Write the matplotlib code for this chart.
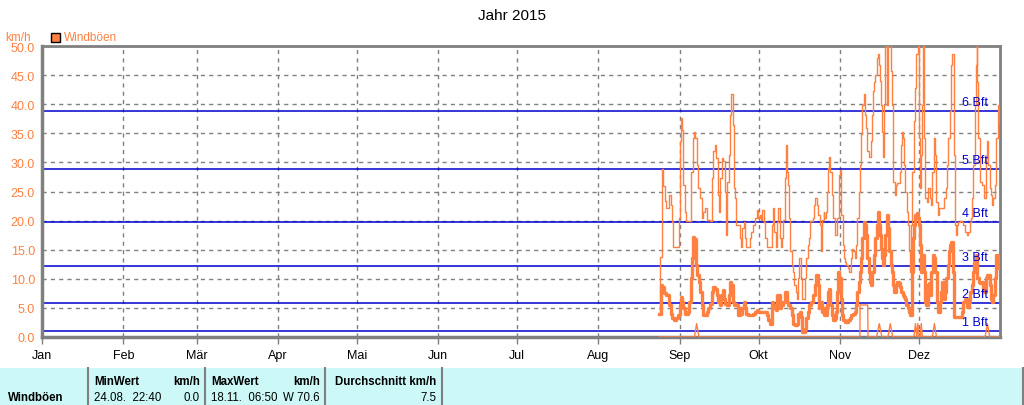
import matplotlib
matplotlib.use("Agg")
import matplotlib.pyplot as plt
from matplotlib.patches import Rectangle
from matplotlib.lines import Line2D

plt.rcParams['font.family'] = ['Liberation Sans', 'DejaVu Sans']

ORANGE = '#ff8040'
BLUE = '#0000d0'
GREY = '#808080'

# day of year (0 = 1. Jan) and gust values in km/h
max_days = [235.2, 235.6, 236.3, 236.7, 237.3, 237.9, 238.6, 239.0, 239.5, 239.9, 240.3, 242.4, 242.8, 243.0,
            243.4, 243.8, 244.3, 245.0, 245.3, 246.6, 247.1, 247.9, 248.4, 248.9, 249.4, 250.0, 250.7, 251.3,
            251.9, 252.6, 253.2, 254.5, 255.1, 255.8, 256.4, 256.8, 257.4, 258.0, 258.5, 259.0, 259.6, 260.1,
            260.6, 261.1, 261.6, 262.1, 262.6, 263.1, 263.6, 264.1, 264.6, 265.3, 265.8, 266.3, 266.8, 267.3,
            267.8, 268.4, 269.1, 269.7, 270.3, 271.0, 271.6, 272.3, 272.9, 273.4, 273.9, 274.4, 274.9, 275.4,
            276.1, 277.3, 278.0, 278.5, 279.0, 279.5, 280.0, 280.5, 281.0, 281.5, 282.0, 282.5, 283.0, 283.4,
            283.8, 284.3, 284.7, 285.1, 285.6, 286.1, 286.6, 287.1, 287.6, 288.1, 288.6, 289.0, 289.4, 290.0,
            290.7, 291.2, 291.7, 292.2, 292.7, 293.2, 293.7, 294.2, 294.7, 295.2, 295.7, 296.3, 296.8, 297.3,
            297.8, 298.1, 298.7, 299.2, 299.6, 299.9, 300.4, 300.9, 301.5, 302.0, 302.5, 303.0, 303.5, 303.7,
            304.0, 304.3, 304.6, 305.0, 305.5, 306.0, 306.5, 307.0, 307.6, 308.1, 308.6, 309.1, 309.6, 310.1,
            310.6, 311.1, 311.6, 312.1, 312.6, 313.0, 313.4, 313.9, 314.4, 314.9, 315.4, 315.9, 316.3, 316.7,
            317.1, 317.5, 318.0, 318.3, 318.6, 318.9, 319.2, 319.6, 320.0, 320.4, 320.8, 321.1, 321.5, 321.8,
            322.2, 322.8, 323.3, 323.7, 324.1, 324.4, 324.9, 325.3, 325.8, 326.4, 326.9, 327.2, 327.6, 328.0,
            328.4, 328.9, 329.2, 329.5, 330.0, 330.4, 330.8, 331.0, 331.6, 332.1, 332.6, 333.1, 333.6, 334.1,
            334.3, 334.6, 334.9, 335.1, 335.5, 335.9, 336.1, 336.6, 337.1, 337.6, 338.2, 338.7, 339.2, 339.7,
            340.2, 340.7, 341.2, 341.7, 342.2, 343.2, 343.7, 344.3, 344.8, 345.3, 345.8, 346.2, 346.5, 346.9,
            347.3, 347.6, 347.8, 348.2, 348.7, 349.1, 349.7, 350.4, 351.0, 351.6, 352.3, 352.9, 353.5, 353.9,
            354.4, 354.9, 355.4, 355.8, 356.2, 356.4, 356.7, 357.3, 358.0, 358.5, 359.0, 359.5, 360.0, 360.5,
            361.0, 361.5, 362.0, 362.5, 363.0, 363.6, 364.1, 364.5, 364.9]
max_vals = [4.0, 13.7, 28.9, 25.9, 23.3, 22.1, 22.1, 24.4, 22.7, 19.8, 15.5, 15.5, 20.4, 33.6,
            37.6, 35.6, 26.1, 21.5, 19.9, 19.9, 28.4, 34.2, 35.3, 34.2, 29.6, 25.6, 23.9, 20.4,
            21.5, 22.1, 20.1, 19.9, 27.3, 31.9, 33.0, 30.7, 24.4, 21.5, 27.3, 30.7, 30.2, 25.0,
            17.5, 26.7, 31.3, 38.2, 41.7, 36.5, 25.6, 23.9, 19.3, 19.3, 17.0, 15.5, 18.7, 19.8,
            17.0, 15.5, 15.5, 17.0, 18.1, 19.3, 20.4, 21.8, 20.4, 21.0, 20.1, 21.8, 19.8, 17.0,
            15.5, 15.5, 19.3, 22.1, 18.1, 15.5, 19.8, 22.1, 17.0, 15.5, 17.0, 20.1, 27.3, 33.0,
            28.4, 26.1, 20.4, 14.7, 12.4, 11.2, 8.9, 7.8, 6.6, 10.1, 13.5, 10.1, 6.6, 6.6,
            10.1, 13.5, 15.8, 17.0, 19.9, 19.9, 20.4, 22.7, 23.9, 22.7, 21.0, 19.3, 14.7, 20.1,
            21.5, 20.4, 21.5, 25.0, 29.0, 31.0, 28.4, 24.4, 20.4, 17.5, 17.5, 20.4, 24.4, 27.9,
            28.7, 26.1, 20.9, 15.8, 13.5, 12.9, 12.4, 11.8, 11.2, 13.5, 15.2, 14.7, 13.5, 15.8,
            20.4, 25.0, 29.6, 34.8, 39.9, 41.7, 38.2, 35.9, 31.9, 31.0, 31.0, 33.6, 38.2, 42.2,
            43.9, 45.1, 46.8, 48.0, 48.6, 46.8, 44.0, 39.9, 35.3, 31.0, 39.9, 70.6, 55.0, 39.9,
            54.0, 57.0, 45.7, 39.9, 31.9, 26.7, 24.4, 26.1, 26.4, 26.4, 28.4, 33.0, 35.3, 34.2,
            29.6, 25.0, 25.0, 21.5, 19.3, 14.7, 11.2, 19.3, 28.4, 37.1, 42.8, 48.6, 55.0, 52.0,
            34.2, 25.6, 31.3, 39.9, 56.0, 53.0, 34.2, 23.8, 23.2, 25.6, 23.8, 22.7, 28.4, 34.2,
            31.3, 23.2, 20.9, 22.1, 22.1, 22.1, 23.8, 25.6, 29.6, 34.2, 38.8, 44.5, 46.8, 48.6,
            44.5, 31.3, 19.3, 17.5, 19.3, 19.8, 19.9, 19.8, 19.3, 18.1, 17.5, 18.1, 19.8, 20.4,
            23.8, 29.6, 39.9, 46.8, 55.0, 43.9, 34.2, 26.7, 26.1, 26.1, 23.8, 30.7, 33.6, 29.6,
            25.6, 24.4, 22.7, 23.8, 26.1, 34.2, 39.9, 37.1, 36.5]

avg_days = [235.2, 235.8, 236.4, 237.0, 237.7, 238.6, 239.0, 239.5, 240.0, 240.8, 241.5, 242.4, 243.0, 243.4,
            243.9, 244.3, 245.0, 245.6, 246.2, 246.6, 247.1, 247.7, 248.1, 248.6, 249.1, 249.6, 250.2, 250.7,
            251.3, 251.9, 252.7, 253.2, 253.8, 254.5, 255.1, 255.7, 256.4, 257.0, 257.7, 258.3, 258.8, 259.3,
            259.8, 260.3, 260.8, 261.6, 262.1, 262.6, 263.1, 263.6, 264.1, 264.6, 265.3, 265.8, 266.3, 266.8,
            267.3, 267.8, 268.4, 269.1, 270.3, 271.0, 271.6, 272.3, 272.9, 275.4, 276.1, 276.7, 277.3, 278.0,
            278.5, 279.0, 279.5, 280.0, 280.5, 281.0, 281.5, 282.5, 283.0, 283.4, 283.8, 284.3, 285.0, 285.6,
            286.2, 286.9, 287.5, 288.1, 288.8, 289.1, 289.7, 290.2, 290.7, 291.2, 291.7, 292.2, 293.0, 293.7,
            294.5, 295.0, 295.5, 296.0, 296.5, 297.3, 297.8, 298.1, 298.9, 299.4, 299.9, 300.4, 300.9, 301.5,
            302.0, 302.5, 303.0, 303.4, 303.7, 304.3, 304.8, 305.3, 305.9, 306.5, 307.2, 307.8, 308.4, 309.1,
            309.6, 310.1, 310.6, 311.1, 311.6, 312.1, 312.6, 313.0, 313.4, 313.8, 314.2, 314.5, 314.9, 315.4,
            315.9, 316.4, 316.9, 317.5, 318.0, 318.5, 318.9, 319.2, 319.6, 320.0, 320.4, 320.8, 321.3, 321.8,
            322.3, 322.8, 323.3, 323.8, 324.3, 324.8, 325.3, 325.8, 326.4, 326.9, 327.4, 327.9, 328.4, 328.9,
            329.3, 329.8, 330.3, 330.8, 331.3, 331.8, 332.3, 332.8, 333.3, 333.8, 334.1, 334.5, 334.9, 335.4,
            335.7, 336.1, 336.5, 336.9, 337.4, 337.9, 338.4, 338.9, 339.4, 339.9, 340.4, 341.0, 341.5, 342.0,
            342.5, 343.0, 343.5, 344.0, 344.5, 345.0, 345.5, 346.0, 346.5, 347.0, 347.6, 349.1, 349.7, 350.4,
            351.0, 351.6, 352.3, 352.6, 353.1, 353.6, 354.2, 354.7, 355.2, 355.7, 356.1, 356.4, 356.9, 357.5,
            358.0, 358.5, 359.0, 359.5, 360.0, 360.5, 361.0, 361.5, 362.0, 362.5, 363.0, 363.6, 364.1, 364.5,
            364.9]
avg_vals = [4.0, 8.9, 8.6, 7.5, 7.2, 7.2, 5.5, 4.0, 3.2, 3.0, 3.3, 3.7, 5.5, 6.9,
            6.0, 4.9, 4.0, 4.0, 4.3, 6.0, 10.1, 13.5, 17.2, 16.9, 12.4, 10.6, 9.5, 7.8,
            5.5, 3.7, 3.7, 4.3, 4.9, 5.7, 7.8, 8.6, 8.3, 7.2, 6.0, 5.5, 7.2, 8.0,
            6.6, 5.7, 5.5, 7.2, 9.5, 8.9, 6.0, 5.5, 5.7, 5.5, 3.7, 4.9, 4.0, 4.9,
            6.0, 4.9, 4.0, 3.8, 3.8, 3.9, 4.3, 4.6, 4.3, 4.3, 3.7, 2.9, 2.3, 6.0,
            4.9, 5.5, 4.6, 7.2, 7.2, 4.9, 5.5, 6.0, 7.8, 7.8, 6.0, 5.5, 4.9, 3.7,
            2.3, 2.0, 2.3, 4.0, 4.3, 3.4, 0.9, 0.9, 1.4, 3.2, 4.3, 5.5, 6.0, 7.2,
            8.9, 10.6, 8.9, 4.9, 6.0, 4.3, 4.9, 3.7, 5.5, 7.8, 8.3, 5.5, 3.7, 2.9,
            3.2, 4.3, 7.8, 11.2, 10.1, 6.6, 3.7, 2.9, 2.6, 2.6, 2.9, 3.2, 3.8, 3.9,
            4.3, 5.5, 7.8, 9.5, 11.2, 13.5, 17.0, 19.8, 19.3, 17.5, 15.2, 13.5, 11.2, 9.5,
            8.9, 11.2, 14.1, 17.0, 19.3, 21.5, 19.3, 17.5, 15.2, 13.5, 12.4, 14.1, 17.5, 21.0,
            18.7, 14.7, 12.4, 11.2, 8.9, 7.8, 8.9, 9.5, 9.2, 8.6, 7.8, 7.2, 6.9, 6.6,
            5.5, 4.9, 4.3, 3.7, 11.2, 17.0, 19.3, 21.0, 21.3, 20.4, 19.3, 15.8, 11.2, 14.1,
            14.1, 11.2, 6.0, 5.5, 8.9, 9.2, 7.2, 11.2, 14.1, 13.5, 11.2, 6.0, 4.3, 6.0,
            7.8, 9.5, 6.6, 7.8, 10.1, 12.4, 14.7, 15.8, 16.4, 11.2, 3.4, 3.4, 3.4, 4.3,
            6.0, 6.6, 6.0, 5.2, 6.0, 7.8, 8.9, 11.2, 12.9, 14.1, 12.4, 10.1, 9.5, 9.2,
            9.5, 8.3, 7.8, 10.1, 10.6, 10.6, 8.9, 6.6, 6.0, 7.2, 10.1, 14.1, 13.5, 11.8,
            12.4]

min_days = [235.2, 248.6, 249.4, 250.3, 311.6, 311.7, 314.6, 314.7, 318.0, 319.0, 320.0, 322.3, 323.2,
            324.1, 332.2, 332.8, 333.3, 333.7, 334.1, 334.6, 335.0, 335.4, 339.2, 340.0, 340.8, 359.3,
            360.2, 361.1, 364.9]
min_vals = [0.0, 0.0, 2.3, 0.0, 0.0, 5.5, 5.5, 0.0, 0.0, 2.3, 0.0, 0.0, 2.3,
            0.0, 0.0, 2.3, 0.0, 2.3, 0.0, 0.0, 2.3, 0.0, 0.0, 2.3, 0.0, 0.0,
            2.3, 0.0, 0.0]

month_starts = [0, 31, 59, 90, 120, 151, 181, 212, 243, 273, 304, 334]
month_labels = ['Jan', 'Feb', 'Mär', 'Apr', 'Mai', 'Jun', 'Jul', 'Aug', 'Sep', 'Okt', 'Nov', 'Dez']

# Beaufort thresholds in km/h
bft_levels = [1.1, 5.8, 12.2, 19.8, 28.8, 38.9]
bft_labels = ['1 Bft', '2 Bft', '3 Bft', '4 Bft', '5 Bft', '6 Bft']

W, H = 1024, 406
fig = plt.figure(figsize=(W / 100, H / 100), dpi=100)
ax = fig.add_axes([42 / W, (H - 338) / H, 958 / W, 291 / H])

ax.set_xlim(0, 365)
ax.set_ylim(0, 50)
ax.set_yticks([i * 5 for i in range(11)])
ax.set_yticklabels(['%.1f' % (i * 5) for i in range(11)], color=ORANGE, fontsize=9)
ax.set_xticks(month_starts)
ax.set_xticklabels(month_labels, fontsize=9)
ax.tick_params(axis='y', length=0, pad=5)
ax.tick_params(axis='x', length=5, color=GREY, width=1, pad=4)
ax.grid(True, color=GREY, linestyle=(0, (3, 3)), linewidth=1)
ax.set_axisbelow(True)
for side in ['left', 'bottom']:
    ax.spines[side].set_color(GREY)
    ax.spines[side].set_linewidth(2.5)
for side in ['top', 'right']:
    ax.spines[side].set_color(GREY)
    ax.spines[side].set_linewidth(2)

for lvl, lab in zip(bft_levels, bft_labels):
    ax.axhline(lvl, color=BLUE, linewidth=1.1, zorder=2)
    ax.text(350.5, lvl + 0.5, lab, color=BLUE, fontsize=9, va='bottom', ha='left', zorder=5)

ax.plot(max_days, max_vals, color=ORANGE, linewidth=1, drawstyle='steps-post', zorder=3)
ax.plot(min_days, min_vals, color=ORANGE, linewidth=1, zorder=3)
ax.plot(avg_days, avg_vals, color=ORANGE, linewidth=2.4, drawstyle='steps-post', zorder=4)

fig.text(512 / W, 1 - 16 / H, 'Jahr 2015', ha='center', va='center', fontsize=11)
fig.text(5 / W, 1 - 38 / H, 'km/h', color=ORANGE, fontsize=8.5, ha='left', va='center')
fig.patches.append(Rectangle((51 / W, 1 - 43 / H), 9 / W, 9 / H, transform=fig.transFigure,
                             facecolor=ORANGE, edgecolor='black', linewidth=1))
fig.text(64 / W, 1 - 38 / H, 'Windböen', color=ORANGE, fontsize=8.5, ha='left', va='center')

# summary table at the bottom
fig.patches.append(Rectangle((0, 0), 1023 / W, 37 / H, transform=fig.transFigure,
                             facecolor='#ccf8f8', edgecolor='none'))
for xs in [88, 205, 325, 442, 1023]:
    fig.lines.append(Line2D([xs / W, xs / W], [0, 37 / H], transform=fig.transFigure,
                            color=GREY, linewidth=1.5))
row1 = 1 - 382 / H
row2 = 1 - 398 / H
fs = 8.3
fig.text(8 / W, row2, 'Windböen', fontsize=fs, weight='bold', va='center')
fig.text(94 / W, row1, 'MinWert', fontsize=fs, weight='bold', va='center')
fig.text(200 / W, row1, 'km/h', fontsize=fs, weight='bold', va='center', ha='right')
fig.text(211 / W, row1, 'MaxWert', fontsize=fs, weight='bold', va='center')
fig.text(320 / W, row1, 'km/h', fontsize=fs, weight='bold', va='center', ha='right')
fig.text(436 / W, row1, 'Durchschnitt km/h', fontsize=fs, weight='bold', va='center', ha='right')
fig.text(94 / W, row2, '24.08.  22:40', fontsize=fs, va='center')
fig.text(200 / W, row2, '0.0', fontsize=fs, va='center', ha='right')
fig.text(211 / W, row2, '18.11.  06:50', fontsize=fs, va='center')
fig.text(320 / W, row2, 'W 70.6', fontsize=fs, va='center', ha='right')
fig.text(436 / W, row2, '7.5', fontsize=fs, va='center', ha='right')

fig.savefig('out.png', dpi=100)
